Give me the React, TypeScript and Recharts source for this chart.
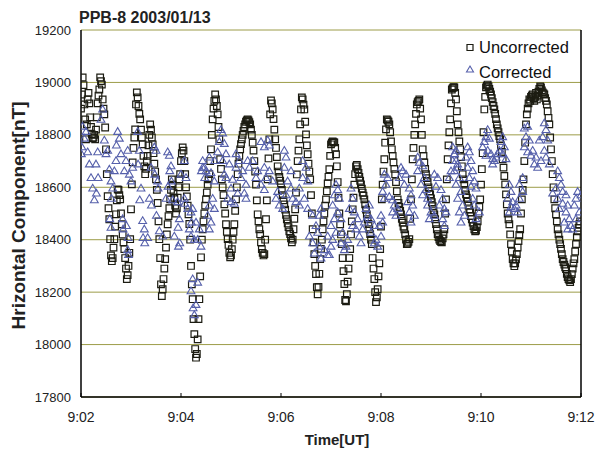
import React from "react";
import {
  CartesianGrid,
  Label,
  Legend,
  ReferenceLine,
  Scatter,
  ScatterChart,
  XAxis,
  YAxis
} from "recharts";

const FONT = "'Liberation Sans', Arial, sans-serif";

const xTicks = [0, 120, 240, 360, 480, 600];
const xTickLabels = ["9:02", "9:04", "9:06", "9:08", "9:10", "9:12"];
const yTicks = [17800, 18000, 18200, 18400, 18600, 18800, 19000, 19200];

// uncorrected H component, one sample per second from 9:02:00 (nT)
const uncorrectedValues = [
  18900, 18954, 19019, 18990, 18916, 18859, 18783, 18840, 18935, 18960,
  18920, 18867, 18830, 18802, 18787, 18790, 18800, 18783, 18820, 18867,
  18920, 18950, 18973, 19019, 19005, 18992, 18935, 18900, 18878, 18828,
  18745, 18650, 18566, 18520, 18478, 18402, 18340, 18318, 18330, 18370,
  18402, 18450, 18497, 18550, 18592, 18590, 18570, 18554, 18500, 18459,
  18420, 18390, 18364, 18330, 18290, 18250, 18265, 18300, 18350, 18402,
  18516, 18611, 18695, 18750, 18790, 18821, 18916, 18962, 18943, 18910,
  18880, 18859, 18820, 18790, 18764, 18720, 18680, 18650, 18670, 18700,
  18720, 18760, 18800, 18840, 18820, 18790, 18764, 18730, 18690, 18660,
  18630, 18590, 18540, 18470, 18402, 18330, 18230, 18185, 18211, 18250,
  18290, 18326, 18370, 18420, 18459, 18490, 18520, 18554, 18590, 18630,
  18610, 18580, 18560, 18530, 18500, 18520, 18560, 18600, 18630, 18650,
  18700, 18730, 18752, 18740, 18700, 18650, 18600, 18565, 18530, 18497,
  18460, 18400, 18300, 18230, 18173, 18097, 18040, 17983, 17950, 17964,
  18020, 18097, 18173, 18260, 18333, 18400, 18440, 18470, 18500, 18530,
  18554, 18580, 18610, 18630, 18650, 18700, 18745, 18800, 18859, 18900,
  18930, 18954, 18935, 18910, 18878, 18830, 18783, 18707, 18670, 18630,
  18600, 18570, 18535, 18500, 18459, 18430, 18402, 18380, 18350, 18333,
  18340, 18364, 18400, 18430, 18459, 18510, 18554, 18600, 18650, 18690,
  18720, 18745, 18765, 18783, 18800, 18815, 18830, 18840, 18850, 18855,
  18859, 18855, 18848, 18840, 18820, 18800, 18770, 18740, 18700, 18660,
  18610, 18550, 18497, 18470, 18440, 18421, 18390, 18364, 18350, 18340,
  18345, 18400, 18478, 18550, 18630, 18710, 18783, 18878, 18931, 18920,
  18897, 18860, 18820, 18783, 18750, 18715, 18680, 18660, 18640, 18625,
  18611, 18590, 18570, 18550, 18535, 18515, 18495, 18478, 18462, 18448,
  18432, 18421, 18405, 18390, 18400, 18440, 18480, 18516, 18580, 18649,
  18700, 18740, 18783, 18840, 18897, 18943, 18935, 18915, 18897, 18850,
  18802, 18760, 18726, 18690, 18660, 18630, 18570, 18500, 18440, 18390,
  18345, 18300, 18269, 18219, 18192, 18220, 18270, 18326, 18365, 18400,
  18440, 18470, 18500, 18530, 18554, 18585, 18615, 18640, 18669, 18720,
  18764, 18770, 18775, 18772, 18771, 18750, 18726, 18680, 18620, 18560,
  18500, 18459, 18420, 18383, 18330, 18280, 18231, 18170, 18165, 18192,
  18240, 18290, 18330, 18364, 18420, 18470, 18516, 18560, 18610, 18650,
  18680, 18685, 18669, 18655, 18640, 18625, 18611, 18595, 18580, 18568,
  18554, 18535, 18515, 18497, 18478, 18460, 18440, 18421, 18400, 18383,
  18330, 18290, 18250, 18200, 18162, 18180, 18211, 18260, 18310, 18364,
  18450, 18554, 18610, 18660, 18707, 18770, 18821, 18859, 18855, 18850,
  18840, 18810, 18775, 18745, 18720, 18695, 18670, 18650, 18620, 18585,
  18554, 18540, 18525, 18510, 18497, 18480, 18465, 18450, 18440, 18420,
  18400, 18383, 18385, 18392, 18402, 18480, 18554, 18630, 18707, 18750,
  18800, 18840, 18880, 18916, 18925, 18930, 18935, 18900, 18859, 18800,
  18745, 18720, 18695, 18670, 18650, 18635, 18620, 18600, 18585, 18573,
  18558, 18543, 18528, 18512, 18497, 18478, 18460, 18440, 18421, 18410,
  18400, 18395, 18392, 18390, 18405, 18420, 18440, 18500, 18554, 18630,
  18707, 18760, 18810, 18859, 18920, 18973, 18978, 18982, 18981, 18960,
  18935, 18890, 18840, 18810, 18775, 18745, 18715, 18680, 18650, 18630,
  18610, 18590, 18573, 18560, 18545, 18530, 18516, 18505, 18490, 18478,
  18465, 18452, 18440, 18432, 18435, 18448, 18470, 18500, 18525, 18554,
  18610, 18669, 18730, 18810, 18897, 18945, 18981, 18988, 18992, 18985,
  18975, 18965, 18954, 18940, 18925, 18910, 18897, 18880, 18860, 18840,
  18825, 18810, 18795, 18783, 18760, 18735, 18707, 18675, 18643, 18611,
  18573, 18535, 18500, 18478, 18459, 18420, 18383, 18355, 18326, 18310,
  18299, 18310, 18325, 18345, 18370, 18395, 18418, 18440, 18500, 18554,
  18590, 18630, 18700, 18770, 18840, 18878, 18900, 18920, 18935, 18930,
  18945, 18950, 18954, 18940, 18930, 18945, 18960, 18935, 18950, 18965,
  18975, 18985, 18981, 18970, 18962, 18958, 18954, 18940, 18930, 18916,
  18890, 18865, 18840, 18790, 18745, 18700, 18650, 18600, 18554, 18520,
  18497, 18470, 18440, 18420, 18400, 18383, 18365, 18345, 18326, 18315,
  18305, 18295, 18288, 18270, 18257, 18250, 18245, 18238, 18250, 18269,
  18290, 18310, 18326, 18355, 18383, 18410, 18432, 18445, 18459, 18470
];

// corrected H component: [seconds after 9:02:00, nT]
const corrected: [number, number][] = [
  [2, 18833], [6, 18813], [4, 18787], [1, 18754], [8, 18735], [0.5, 18728], [10, 18689], [18, 18689],
  [20, 18735], [12, 18637], [20.5, 18637], [14, 18597], [18.5, 18578], [16, 18552], [26, 18898], [24, 18859],
  [28, 18780], [30, 18728], [32, 18741], [34, 18669], [40, 18663], [42, 18702], [36, 18624], [38, 18597],
  [36.5, 18558], [44, 18813], [46, 18787], [42.5, 18761], [48, 18728], [34.5, 18480], [36, 18447], [56, 18741],
  [54, 18702], [52, 18663], [58, 18650], [60, 18624], [62, 18676], [50, 18480], [54.5, 18454], [50.5, 18441],
  [56.5, 18408], [56, 18362], [57, 18343], [68, 18813], [70, 18741], [68.5, 18689], [72, 18597], [70.5, 18552],
  [74, 18473], [76, 18441], [74.5, 18408], [76.5, 18388], [80, 18408], [88, 18754], [90, 18741], [84, 18676],
  [88.5, 18650], [92, 18624], [92.5, 18597], [82, 18558], [84.5, 18532], [90.5, 18493], [98, 18414], [94, 18434],
  [104, 18735], [106, 18722], [108, 18682], [106.5, 18663], [108.5, 18624], [104.5, 18604], [102, 18558], [110, 18552],
  [116, 18545], [118, 18480], [116.5, 18447], [112, 18414], [118.5, 18388], [117, 18375], [124, 18558], [124.5, 18539],
  [120, 18650], [126, 18637], [124, 18702], [134, 18251], [140, 18238], [132, 18205], [138, 18153], [134.5, 18140],
  [136, 18114], [130, 18441], [132, 18414], [136, 18401], [142, 18441], [140, 18401], [144, 18375], [146, 18702],
  [148, 18676], [144.5, 18663], [148.5, 18637], [132.5, 18467], [138, 18467], [132, 18506], [128, 18519], [134, 18519],
  [146, 18676], [150, 18663], [156, 18656], [160, 18624], [154, 18715], [160.5, 18702], [158, 18558], [154, 18532],
  [160, 18519], [152, 18493], [156, 18467], [154, 18441], [168, 18820], [170, 18807], [166, 18774], [172, 18767],
  [164, 18735], [174, 18728], [170, 18702], [178, 18689], [172, 18650], [174, 18637], [182, 18630], [180, 18597],
  [176, 18558], [180, 18545], [184, 18539], [186, 18728], [190, 18702], [186, 18676], [194, 18663], [192, 18637],
  [198, 18611], [188, 18578], [196, 18578], [198, 18558], [200, 18702], [206, 18702], [202, 18676], [212, 18663],
  [210, 18637], [216, 18611], [220, 18591], [216, 18774], [220, 18754], [224, 18780], [226, 18761], [220, 18676],
  [226, 18663], [222, 18637], [230, 18624], [236, 18584], [234, 18558], [238, 18532], [242, 18519], [244, 18741],
  [246, 18715], [244, 18676], [252, 18663], [248, 18624], [252, 18597], [246, 18571], [254, 18558], [258, 18545],
  [262, 18532], [266, 18702], [270, 18676], [266, 18637], [272, 18624], [262, 18597], [268, 18558], [272, 18519],
  [278, 18493], [282, 18454], [286, 18493], [288, 18519], [284, 18428], [274, 18414], [278, 18388], [286, 18375],
  [292, 18362], [296, 18343], [280, 18349], [288, 18330], [298, 18343], [300, 18375], [296, 18414], [306, 18611],
  [308, 18591], [304, 18571], [310, 18558], [302, 18532], [308, 18506], [312, 18480], [304, 18480], [300, 18454],
  [306, 18428], [314, 18428], [302, 18401], [316, 18362], [318, 18375], [312, 18388], [320, 18401], [324, 18597],
  [326, 18558], [322, 18519], [328, 18506], [332, 18480], [330, 18441], [326, 18454], [334, 18414], [336, 18388],
  [338, 18441], [342, 18519], [346, 18532], [344, 18493], [348, 18480], [340, 18467], [352, 18454], [348, 18428],
  [354, 18401], [356, 18375], [352, 18388], [360, 18414], [360, 18493], [362, 18467], [358, 18454], [364, 18650],
  [368, 18637], [366, 18611], [362, 18584], [370, 18565], [374, 18552], [364, 18558], [376, 18532], [374, 18506],
  [378, 18493], [380, 18519], [384, 18676], [386, 18663], [382, 18637], [390, 18650], [388, 18611], [394, 18597],
  [396, 18571], [392, 18545], [398, 18532], [394, 18506], [400, 18493], [396, 18467], [404, 18715], [406, 18695],
  [410, 18682], [404, 18663], [412, 18637], [408, 18611], [414, 18591], [410, 18571], [416, 18558], [416, 18532],
  [420, 18506], [418, 18480], [424, 18493], [424, 18650], [428, 18637], [426, 18604], [432, 18591], [434, 18558],
  [430, 18532], [436, 18519], [438, 18506], [434, 18480], [436, 18454], [442, 18637], [448, 18728], [450, 18741],
  [446, 18702], [452, 18689], [444, 18663], [446, 18754], [448, 18728], [450, 18702], [452, 18676], [448, 18663],
  [454, 18637], [450, 18611], [456, 18584], [452, 18558], [458, 18532], [454, 18506], [460, 18493], [456, 18467],
  [464, 18754], [466, 18735], [462, 18715], [468, 18702], [464, 18676], [470, 18663], [466, 18637], [472, 18624],
  [468, 18604], [474, 18597], [470, 18558], [472, 18532], [478, 18506], [474, 18480], [488, 18820], [486, 18793],
  [490, 18787], [484, 18774], [482, 18754], [488, 18741], [492, 18728], [486, 18722], [494, 18709], [496, 18702],
  [498, 18715], [500, 18728], [494, 18689], [506, 18793], [504, 18774], [508, 18754], [502, 18741], [506, 18728],
  [510, 18709], [514, 18611], [516, 18584], [512, 18558], [518, 18545], [516, 18526], [520, 18519], [522, 18532],
  [514, 18506], [526, 18558], [524, 18506], [532, 18826], [536, 18833], [534, 18793], [538, 18780], [532, 18754],
  [536, 18735], [542, 18741], [540, 18722], [546, 18715], [544, 18689], [548, 18676], [552, 18702], [556, 18846],
  [558, 18820], [554, 18793], [560, 18780], [550, 18780], [556, 18741], [558, 18715], [562, 18689], [530, 18637],
  [526, 18611], [530, 18584], [572, 18663], [574, 18637], [576, 18611], [570, 18597], [578, 18584], [566, 18578],
  [582, 18571], [572, 18558], [578, 18539], [584, 18532], [574, 18519], [582, 18506], [586, 18480], [580, 18467],
  [588, 18454], [584, 18441], [592, 18532], [594, 18558], [596, 18584], [600, 18571], [598, 18506], [594, 18480],
  [590, 18441]
];

const uncorrectedData = uncorrectedValues.map((v, i) => ({ t: i, v }));
const correctedData = corrected.map(([t, v]) => ({ t, v }));

const SQUARE_COLOR = "#1c1c12";
const TRIANGLE_COLOR = "#5660ab";
const GRID_COLOR = "#9c9c48";

function SquareMark({ cx, cy }: any) {
  if (cx == null || cy == null) return null;
  return (
    <path
      d={`M${cx - 3.3},${cy - 3.3}h6.6v6.6h-6.6Z`}
      fill="none"
      stroke={SQUARE_COLOR}
      strokeWidth={1.2}
    />
  );
}

function TriangleMark({ cx, cy }: any) {
  if (cx == null || cy == null) return null;
  return (
    <path
      d={`M${cx},${cy - 3.8}L${cx + 3.9},${cy + 2.9}L${cx - 3.9},${cy + 2.9}Z`}
      fill="none"
      stroke={TRIANGLE_COLOR}
      strokeWidth={1.1}
    />
  );
}

function TimeTick({ x, y, payload }: any) {
  const label = xTickLabels[xTicks.indexOf(payload.value)];
  return (
    <g>
      <line x1={x} x2={x} y1={y} y2={y - 4} stroke="#000" strokeWidth={1} />
      <text x={x} y={y + 25} textAnchor="middle" fontSize={14} fontFamily={FONT} fill="#222">
        {label}
      </text>
    </g>
  );
}

function ChartLegend() {
  return (
    <div style={{ position: "relative", width: 125, height: 50, fontFamily: FONT, fontSize: 16.5, color: "#111" }}>
      <svg width={12} height={50} style={{ position: "absolute", left: 0, top: 0 }}>
        <path d="M3,9.5h6v6h-6Z" fill="none" stroke={SQUARE_COLOR} strokeWidth={1.2} />
        <path d="M6,31L9.5,37H2.5Z" fill="none" stroke={TRIANGLE_COLOR} strokeWidth={1.1} />
      </svg>
      <div style={{ position: "absolute", left: 15, top: 0, lineHeight: "25px", whiteSpace: "nowrap" }}>
        Uncorrected
      </div>
      <div style={{ position: "absolute", left: 15, top: 25, lineHeight: "25px", whiteSpace: "nowrap" }}>
        Corrected
      </div>
    </div>
  );
}

export default function App() {
  return (
    <div style={{ position: "absolute", left: 0, top: 0, width: 605, height: 455, background: "#fff" }}>
      <div
        style={{
          position: "absolute",
          left: 79,
          top: 10,
          fontFamily: FONT,
          fontWeight: "bold",
          fontSize: 16,
          lineHeight: "16px",
          color: "#222",
          whiteSpace: "nowrap"
        }}
      >
        PPB-8 2003/01/13
      </div>
      <ScatterChart width={605} height={455} margin={{ top: 30, right: 24, bottom: 28, left: 0 }}>
        <CartesianGrid horizontal vertical={false} stroke={GRID_COLOR} strokeWidth={1} />
        <XAxis
          type="number"
          dataKey="t"
          domain={[0, 600]}
          ticks={xTicks}
          height={30}
          tick={<TimeTick />}
          tickSize={0}
          tickMargin={0}
          tickLine={false}
          axisLine={{ stroke: "#000", strokeWidth: 1.5 }}
          allowDataOverflow
        >
          <Label
            content={({ viewBox }: any) => (
              <text
                x={337}
                y={viewBox.y + 48}
                textAnchor="middle"
                fontFamily={FONT}
                fontWeight="bold"
                fontSize={15}
                fill="#222"
              >
                Time[UT]
              </text>
            )}
          />
        </XAxis>
        <YAxis
          type="number"
          dataKey="v"
          domain={[17800, 19200]}
          ticks={yTicks}
          width={81}
          tickSize={0}
          tickMargin={10}
          tickLine={false}
          tick={{ fontSize: 13, fill: "#222", fontFamily: FONT }}
          axisLine={{ stroke: "#000", strokeWidth: 1.5 }}
          allowDataOverflow
        >
          <Label
            content={({ viewBox }: any) => {
              const cx = 18;
              const cy = viewBox.y + viewBox.height / 2 + 2;
              return (
                <text
                  x={cx}
                  y={cy}
                  transform={`rotate(-90 ${cx} ${cy})`}
                  textAnchor="middle"
                  dominantBaseline="central"
                  fontFamily={FONT}
                  fontWeight="bold"
                  fontSize={19}
                  fill="#222"
                >
                  Hrizontal Component[nT]
                </text>
              );
            }}
          />
        </YAxis>
        <ReferenceLine x={600} stroke="#000" strokeWidth={1.5} />
        <Legend
          layout="vertical"
          align="center"
          verticalAlign="middle"
          content={() => <ChartLegend />}
          wrapperStyle={{ left: 464, top: 35, width: 125, height: 50 }}
        />
        <Scatter
          name="Uncorrected"
          data={uncorrectedData}
          shape={<SquareMark />}
          isAnimationActive={false}
        />
        <Scatter
          name="Corrected"
          data={correctedData}
          shape={<TriangleMark />}
          isAnimationActive={false}
        />
      </ScatterChart>
    </div>
  );
}
